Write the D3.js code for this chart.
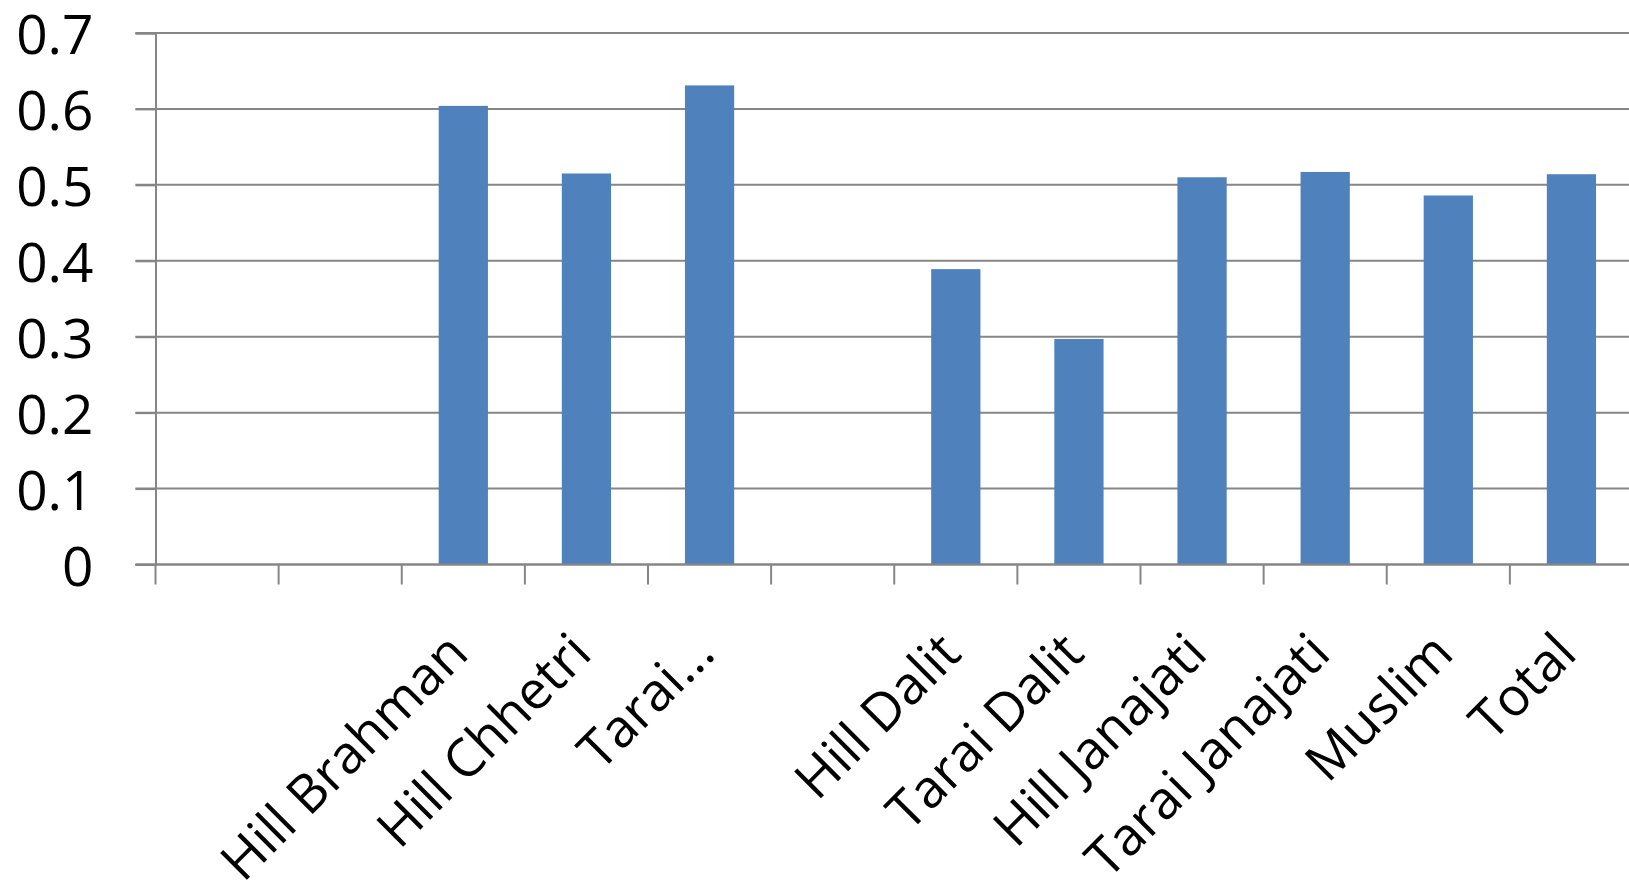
<!DOCTYPE html>
<html>
<head>
<meta charset="utf-8">
<script src="https://cdn.jsdelivr.net/npm/d3@7"></script>
<style>
  html, body { margin: 0; padding: 0; background: #fff; }
  svg { display: block; }
  text { font-family: "Open Sans", "Noto Sans", sans-serif; fill: #000; }
</style>
</head>
<body>
<svg id="chart" width="1629" height="892"></svg>
<script>
// ---- data ----
const categories = ["", "", "Hill Brahman", "Hill Chhetri", "Tarai...", "", "Hill Dalit", "Tarai Dalit", "Hill Janajati", "Tarai Janajati", "Muslim", "Total"];
const values = [null, null, 0.604, 0.515, 0.631, null, 0.389, 0.297, 0.510, 0.517, 0.486, 0.514];
const yTicks = [0, 0.1, 0.2, 0.3, 0.4, 0.5, 0.6, 0.7];
const yTickLabels = ["0", "0.1", "0.2", "0.3", "0.4", "0.5", "0.6", "0.7"];

// ---- layout ----
const W = 1629, H = 892;
const mLeft = 155.5, mRight = 1633, mTop = 33, mBottom = 564.5;

const svg = d3.select("#chart");
const idx = d3.range(categories.length);

const x = d3.scaleBand().domain(idx).range([mLeft, mRight]).paddingInner(0.6).paddingOuter(0.3);
const y = d3.scaleLinear().domain([0, 0.7]).range([mBottom, mTop]);

const grid = "#868686";

// gridlines (incl. left tick marks)
svg.append("g")
  .selectAll("line")
  .data(yTicks)
  .join("line")
  .attr("x1", mLeft - 20).attr("x2", W)
  .attr("y1", d => y(d)).attr("y2", d => y(d))
  .attr("stroke", grid).attr("stroke-width", 2);

// y axis
const yAxis = svg.append("g")
  .attr("transform", `translate(${mLeft},0)`)
  .call(d3.axisLeft(y).tickValues(yTicks).tickSize(20).tickPadding(42)
        .tickFormat((d, i) => yTickLabels[i]));
yAxis.select(".domain").attr("stroke", grid).attr("stroke-width", 2);
yAxis.selectAll(".tick line").attr("stroke", grid).attr("stroke-width", 2);
yAxis.selectAll(".tick text")
  .attr("font-family", "Open Sans").attr("font-size", 55).attr("fill", "#000")
  .attr("dy", "0.38em");

// bars
svg.append("g")
  .selectAll("rect")
  .data(idx.filter(i => values[i] != null))
  .join("rect")
  .attr("x", i => x(i))
  .attr("width", x.bandwidth())
  .attr("y", i => y(values[i]))
  .attr("height", i => y(0) - y(values[i]))
  .attr("fill", "#4F81BD");

// x axis line
svg.append("line")
  .attr("x1", mLeft - 20).attr("x2", W)
  .attr("y1", y(0)).attr("y2", y(0))
  .attr("stroke", grid).attr("stroke-width", 2);

// x ticks at category boundaries
const bounds = d3.range(categories.length + 1).map(i =>
  i < categories.length ? x(i) + x.bandwidth() / 2 - x.step() / 2
                        : x(i - 1) + x.bandwidth() / 2 + x.step() / 2);
svg.append("g")
  .selectAll("line")
  .data(bounds)
  .join("line")
  .attr("x1", d => d).attr("x2", d => d)
  .attr("y1", y(0)).attr("y2", y(0) + 20)
  .attr("stroke", grid).attr("stroke-width", 2);

// category labels
svg.append("g")
  .selectAll("text")
  .data(idx.filter(i => categories[i] !== ""))
  .join("text")
  .attr("transform", i => `translate(${x(i) + x.bandwidth() / 2 - 6},${y(0) + 78}) rotate(-45)`)
  .attr("text-anchor", "end")
  .attr("dy", "0.36em")
  .attr("font-size", 53)
  .text(i => categories[i]);
</script>
</body>
</html>
